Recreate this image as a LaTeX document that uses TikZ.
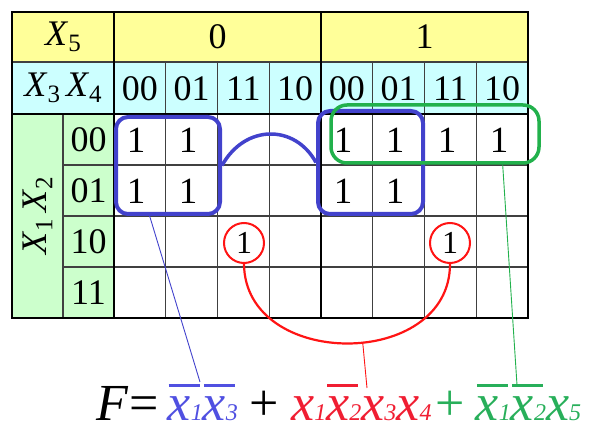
\documentclass[tikz,border=0pt]{standalone}
\usepackage{fontspec}
\setmainfont{Liberation Serif}
\usetikzlibrary{calc}
\definecolor{hdryellow}{RGB}{255,255,153}
\definecolor{hdrcyan}{RGB}{204,255,255}
\definecolor{hdrgreen}{RGB}{204,255,204}
\definecolor{loopblue}{RGB}{66,66,204}
\definecolor{loopgreen}{RGB}{34,177,76}
\definecolor{loopred}{RGB}{255,20,20}
\definecolor{fblue}{RGB}{80,80,225}
\definecolor{fred}{RGB}{240,30,50}
\definecolor{fgreen}{RGB}{40,175,90}
\newcommand{\vx}[1]{\textit{x}{\fontsize{24}{24}\selectfont\textit{#1}}}
\newcommand{\nx}[1]{\setbox0\hbox{\vx{#1}}\rlap{\kern1pt\rule[0.66em]{\dimexpr\wd0-4pt\relax}{2.2pt}}\box0}
\newcommand{\vX}[1]{\textit{X}\raisebox{-6pt}{\fontsize{25}{25}\selectfont #1}}
\tikzset{
  gridthin/.style={line width=1.2pt, black!75},
  gridthick/.style={line width=2.6pt, black},
  tabtext/.style={inner sep=0pt, font=\fontsize{36}{36}\selectfont},
  onecell/.style={inner sep=0pt, font=\fontsize{37}{37}\selectfont},
  bluebox/.style={draw=loopblue, line width=4pt, rounded corners=12pt, inner sep=0pt},
  greenbox/.style={draw=loopgreen, line width=3.5pt, rounded corners=16pt, inner sep=0pt},
  redcirc/.style={draw=loopred, line width=2pt, circle, minimum size=40pt, inner sep=0pt, font=\fontsize{32}{32}\selectfont},
  blueconn/.style={loopblue, line width=3.5pt},
  redconn/.style={loopred, line width=2.2pt},
  thinblue/.style={loopblue, line width=0.9pt},
  thinred/.style={loopred, line width=0.9pt},
  thingreen/.style={loopgreen, line width=0.9pt}
}
\begin{document}
\begin{tikzpicture}[x=1pt,y=-1pt]
\useasboundingbox (0,0) rectangle (590,430);
% backgrounds
\fill[hdryellow] (12,12) rectangle (528,62);
\fill[hdrcyan] (12,62) rectangle (528,114);
\fill[hdrgreen] (12,114) rectangle (114,318);
% thin grid lines
\foreach \cx in {165.75,217.5,269.25,372.75,424.5,476.25}
  \draw[gridthin] (\cx,62) -- (\cx,318);
\foreach \ry in {165,216,267}
  \draw[gridthin] (63,\ry) -- (528,\ry);
\draw[gridthin] (12,62) -- (528,62);
\draw[gridthin] (63,114) -- (63,318);
% thick grid lines
\draw[gridthick] (114,12) -- (114,318);
\draw[gridthick] (321,12) -- (321,318);
\draw[gridthick] (12,114) -- (528,114);
\draw[gridthick] (12,12) rectangle (528,318);
% header texts
\node[tabtext] (x5) at (63,37) {\vX{5}};
\node[tabtext] (h0) at (217.5,37) {0};
\node[tabtext] (h1) at (424.5,37) {1};
\node[tabtext] (x34) at (63,88) {\vX{3}\,\vX{4}};
\node[tabtext] (c1) at (139.9,89) {00};
\node[tabtext] (c2) at (191.6,89) {01};
\node[tabtext] (c3) at (243.4,89) {11};
\node[tabtext] (c4) at (295.1,89) {10};
\node[tabtext] (c5) at (346.9,89) {00};
\node[tabtext] (c6) at (398.6,89) {01};
\node[tabtext] (c7) at (450.4,89) {11};
\node[tabtext] (c8) at (502.1,89) {10};
\node[tabtext] (r1) at (88.5,140) {00};
\node[tabtext] (r2) at (88.5,191) {01};
\node[tabtext] (r3) at (88.5,242) {10};
\node[tabtext] (r4) at (88.5,293) {11};
\node[tabtext, rotate=90] (x12) at (37.5,216) {\vX{1}\,\vX{2}};
% ones
\node[onecell] (a11) at (136,140) {1};
\node[onecell] (a12) at (188,140) {1};
\node[onecell] (a21) at (136,191) {1};
\node[onecell] (a22) at (188,191) {1};
\node[onecell] (b11) at (343,140) {1};
\node[onecell] (b12) at (395,140) {1};
\node[onecell] (b13) at (447,140) {1};
\node[onecell] (b14) at (499,140) {1};
\node[onecell] (b21) at (343,191) {1};
\node[onecell] (b22) at (395,191) {1};
% loops
\node[bluebox, minimum width=104pt, minimum height=97pt] (lb) at (168,165.5) {};
\node[bluebox, minimum width=105pt, minimum height=103pt] (rb) at (370.5,162.5) {};
\node[greenbox, minimum width=208pt, minimum height=58pt] (gb) at (435,134) {};
\node[redcirc] (rc1) at (244,243) {1};
\node[redcirc] (rc2) at (450,243) {1};
\draw[blueconn] (lb.east) .. controls (245,124) and (295,124) .. (rb.west);
\draw[redconn] (rc1.south) .. controls (245,370) and (450,370) .. (rc2.south) coordinate[pos=0.55] (ra);
% formula
\node[anchor=base west, inner sep=0pt, font=\fontsize{52}{52}\selectfont] (F) at (96,421)
 {\textit{F}\hspace{1pt}=\hspace{9pt}\textcolor{fblue}{\nx{1}\nx{3}}\hspace{12pt}+\hspace{12pt}\textcolor{fred}{\vx{1}\nx{2}\vx{3}\vx{4}}\hspace{4pt}\textcolor{fgreen}{+\hspace{11pt}\nx{1}\nx{2}\vx{5}}};
\coordinate (bt) at (200,382);
\coordinate (rt) at (367,388);
\coordinate (gt) at (517,385);
\draw[thinblue] ($(lb.south west)!0.33!(lb.south east)$) -- (bt);
\draw[thinred] (ra) -- (rt);
\draw[thingreen] ($(gb.south west)!0.82!(gb.south east)$) -- (gt);
\end{tikzpicture}
\end{document}
